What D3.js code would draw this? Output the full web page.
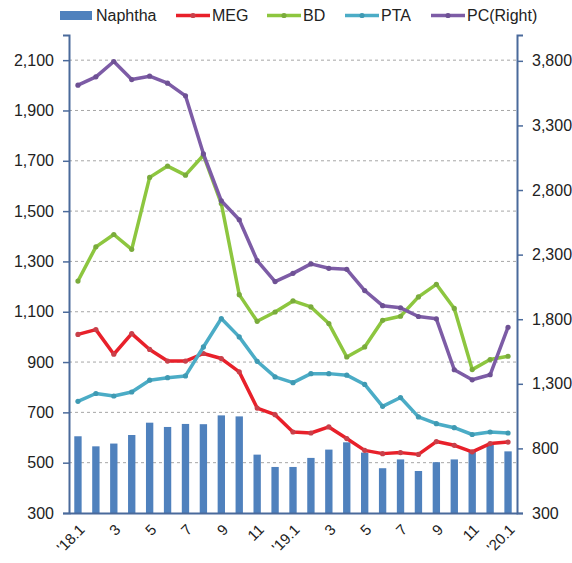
<!DOCTYPE html>
<html><head><meta charset="utf-8">
<script src="https://cdn.jsdelivr.net/npm/d3@7"></script>
<style>html,body{margin:0;padding:0;background:#fff;}svg{display:block;}</style>
</head><body><svg id="c" width="572" height="563"></svg>
<script>
const months = ["'18.1","'18.2","'18.3","'18.4","'18.5","'18.6","'18.7","'18.8","'18.9","'18.10","'18.11","'18.12","'19.1","'19.2","'19.3","'19.4","'19.5","'19.6","'19.7","'19.8","'19.9","'19.10","'19.11","'19.12","'20.1"];
const tickLabels = ["'18.1","3","5","7","9","11","'19.1","3","5","7","9","11","'20.1"];
const naphtha = [605,565,576,610,659,642,654,653,688,684,532,483,483,519,552,581,540,478,513,467,502,513,543,572,545];
const meg = [1010,1029,931,1013,950,904,904,934,914,861,717,691,622,618,642,596,549,536,540,533,584,569,543,576,582];
const bd = [1222,1358,1407,1348,1634,1679,1643,1722,1530,1168,1062,1099,1143,1119,1053,920,960,1066,1082,1159,1209,1113,870,910,923];
const pta = [744,775,765,781,828,838,845,960,1073,1000,903,841,818,854,854,848,811,724,759,682,655,639,612,622,618];
const pc = [3612,3676,3795,3655,3681,3627,3529,3080,2717,2570,2254,2091,2155,2228,2194,2186,2022,1905,1888,1821,1803,1409,1331,1370,1738];
const leftTicks = [300,500,700,900,1100,1300,1500,1700,1900,2100];
const rightTicks = [300,800,1300,1800,2300,2800,3300,3800];

const svg = d3.select("#c");
const L = 69, R = 517, T = 35, B = 513;
const axisColor = "#4a6a9b";
const font = "Liberation Sans, Arial, sans-serif";

const x = d3.scaleBand().domain(months).range([L, R]).padding(0);
const yL = d3.scaleLinear().domain([300, 2200]).range([B, T]);
const yR = d3.scaleLinear().domain([300, 4000]).range([B, T]);
const cx = i => x(months[i]) + x.bandwidth() / 2;

// gridlines
svg.append("g").selectAll("line").data(leftTicks.slice(1)).join("line")
  .attr("x1", L).attr("x2", R).attr("y1", d => yL(d)).attr("y2", d => yL(d))
  .attr("stroke", "#a6a6a6").attr("stroke-width", 1).attr("stroke-dasharray", "3,3");

// bars
const bw = x.bandwidth() * 0.41;
svg.append("g").selectAll("rect").data(naphtha).join("rect")
  .attr("x", (d, i) => cx(i) - bw / 2).attr("width", bw)
  .attr("y", d => yL(d)).attr("height", d => B - yL(d))
  .attr("fill", "#4f81bd");

function drawLine(vals, scale, color, mcolor) {
  const line = d3.line().x((d, i) => cx(i)).y(d => scale(d));
  svg.append("path").datum(vals).attr("d", line).attr("fill", "none")
    .attr("stroke", color).attr("stroke-width", 3.5).attr("stroke-linejoin", "round");
  svg.append("g").selectAll("circle").data(vals).join("circle")
    .attr("cx", (d, i) => cx(i)).attr("cy", d => scale(d)).attr("r", 2.6)
    .attr("fill", mcolor);
}
drawLine(meg, yL, "#e8202a", "#c9404a");
drawLine(bd, yL, "#8dc63f", "#7aab3c");
drawLine(pta, yL, "#4bacc6", "#3f9ab3");
drawLine(pc, yR, "#7d5ca6", "#6e5194");

// axes
const axL = svg.append("g").attr("transform", `translate(${L},0)`)
  .call(d3.axisLeft(yL).tickValues(leftTicks).tickSize(6).tickPadding(9).tickFormat(d3.format(",")));
const axR = svg.append("g").attr("transform", `translate(${R},0)`)
  .call(d3.axisRight(yR).tickValues(rightTicks).tickSize(6).tickPadding(9).tickFormat(d3.format(",")));
[axL, axR].forEach(a => {
  a.select(".domain").attr("stroke", axisColor).attr("stroke-width", 2);
  a.selectAll(".tick line").attr("stroke", axisColor).attr("stroke-width", 1.5);
  a.selectAll(".tick text").attr("fill", "#222").style("font-size", "16px").style("font-family", font);
});
const tickMonths = months.filter((m, i) => i % 2 === 0);
const axB = svg.append("g").attr("transform", `translate(0,${B})`)
  .call(d3.axisBottom(x).tickValues(tickMonths).tickSize(0).tickFormat((m, i) => tickLabels[i]));
axB.select(".domain").attr("stroke", axisColor).attr("stroke-width", 2);
axB.selectAll(".tick text").attr("fill", "#222").style("font-size", "15px").style("font-family", font)
  .attr("text-anchor", "end").attr("y", 0).attr("dy", "0.35em")
  .attr("transform", "translate(4,14) rotate(-45)");

// legend
const legend = [
  {name: "Naphtha", type: "bar", color: "#4f81bd", x: 60},
  {name: "MEG", type: "line", color: "#e8202a", m: "#c9404a", x: 176},
  {name: "BD", type: "line", color: "#8dc63f", m: "#7aab3c", x: 267},
  {name: "PTA", type: "line", color: "#4bacc6", m: "#3f9ab3", x: 345},
  {name: "PC(Right)", type: "line", color: "#7d5ca6", m: "#6e5194", x: 431}
];
const lg = svg.append("g");
legend.forEach(d => {
  const g = lg.append("g");
  if (d.type === "bar") {
    g.append("rect").attr("x", d.x).attr("y", 11).attr("width", 32).attr("height", 9).attr("fill", d.color);
  } else {
    g.append("line").attr("x1", d.x).attr("x2", d.x + 34).attr("y1", 15.5).attr("y2", 15.5)
      .attr("stroke", d.color).attr("stroke-width", 3.5);
    g.append("circle").attr("cx", d.x + 17).attr("cy", 15.5).attr("r", 2.6).attr("fill", d.m);
  }
  g.append("text").attr("x", d.x + 36).attr("y", 15.5).attr("dy", "0.35em")
    .attr("fill", "#222").style("font-size", "16px").style("font-family", font).text(d.name);
});
</script></body></html>
